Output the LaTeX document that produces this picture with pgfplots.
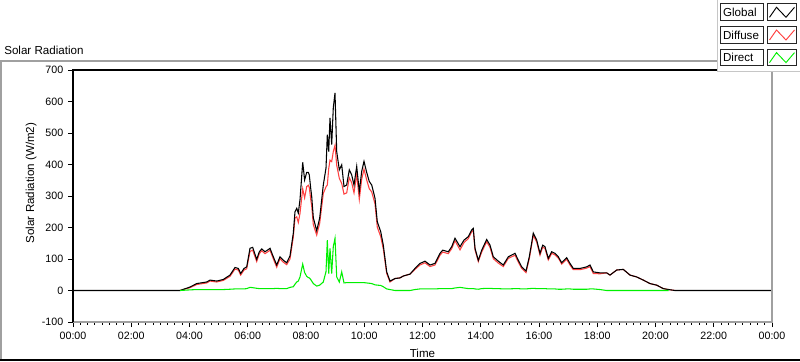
\documentclass[border=0pt]{standalone}
\usepackage{pgfplots}
\usepackage{pgfplotstable}
\pgfplotsset{compat=1.18}
\usepackage{fontspec}
\setmainfont{Liberation Sans}
\definecolor{frgray}{RGB}{160,160,160}
\definecolor{difred}{RGB}{255,64,64}
\definecolor{dirgreen}{RGB}{0,240,0}
\pgfplotstableread{
h G D B
0.000 0 nan nan
3.674 0 0 0
4.017 11 9 2
4.247 22 19 3
4.591 27 24 3
4.704 33 30 3
4.934 30 27 3
5.161 35 32 3
5.391 49 45 4
5.562 73 68 5
5.676 70 65 5
5.758 54 49 5
5.871 70 65 5
5.964 75 69 6
6.077 134 124 10
6.170 137 128 9
6.307 99 92 7
6.397 123 117 6
6.479 132 126 6
6.592 123 117 6
6.706 130 124 6
6.764 134 128 6
6.877 107 101 6
6.994 81 74 7
7.107 107 101 6
7.221 96 90 6
7.337 88 82 6
7.451 110 100 10
7.564 182 170 12
7.622 250 230 20
7.681 261 234 27
7.736 246 216 30
7.794 288 245 43
7.887 407 323 84
7.953 351 294 57
8.024 375 330 45
8.079 375 334 41
8.113 367 327 40
8.161 325 290 35
8.196 298 268 30
8.251 231 209 22
8.367 190 176 14
8.470 230 213 17
8.594 335 308 27
8.687 389 329 60
8.732 495 335 160
8.780 441 387 54
8.824 548 414 134
8.882 463 409 54
8.937 580 441 139
8.996 627 461 166
9.054 441 398 43
9.144 383 356 27
9.226 399 340 59
9.305 330 306 24
9.397 335 310 25
9.487 383 358 25
9.569 367 342 25
9.648 335 310 25
9.741 394 369 25
9.830 314 289 25
9.912 378 353 25
9.991 410 385 25
10.084 375 351 24
10.173 346 323 23
10.256 335 313 22
10.369 293 275 18
10.448 218 201 17
10.565 187 171 16
10.654 144 132 12
10.771 59 54 5
10.884 30 27 3
11.056 38 38 0
11.227 40 40 0
11.341 46 46 0
11.571 52 52 0
11.742 70 67 3
11.914 86 81 5
12.086 93 88 5
12.258 81 76 5
12.429 86 81 5
12.601 118 112 6
12.693 128 122 6
12.886 123 117 6
13.003 139 133 6
13.116 166 158 8
13.288 139 129 10
13.425 160 152 8
13.573 171 165 6
13.689 192 186 6
13.744 197 191 6
13.803 134 129 5
13.916 96 92 4
14.033 128 122 6
14.204 162 155 7
14.318 144 137 7
14.431 107 101 6
14.603 93 87 6
14.774 81 76 5
14.946 107 102 5
15.176 118 112 6
15.290 96 90 6
15.406 75 70 5
15.554 62 57 5
15.667 107 101 6
15.804 182 175 7
15.921 160 154 6
16.034 118 112 6
16.127 144 138 6
16.206 139 133 6
16.319 102 97 5
16.436 123 118 5
16.549 118 113 5
16.663 107 103 4
16.779 88 84 4
16.951 104 99 5
17.064 86 81 5
17.178 70 66 4
17.408 70 66 4
17.638 75 71 4
17.751 81 76 5
17.865 59 54 5
18.094 56 53 3
18.324 56 56 0
18.438 49 49 0
18.668 65 65 0
18.894 67 67 0
19.124 49 49 0
19.354 43 43 0
19.581 33 33 0
19.811 22 22 0
20.041 17 17 0
20.268 6 6 0
20.450 3 3 0
20.670 0 0 nan
24.000 0 nan nan
}\solar
\begin{document}
\begin{tikzpicture}
\useasboundingbox (0,0) rectangle (600pt,270.75pt);
\fill[white] (0,0) rectangle (600pt,270.75pt);
\begin{axis}[
  at={(54.75pt,29.25pt)}, anchor=south west,
  scale only axis, width=524.25pt, height=189pt,
  xmin=0, xmax=24, ymin=-100, ymax=700,
  xtick={0,2,...,24},
  xticklabels={00:00,02:00,04:00,06:00,08:00,10:00,12:00,14:00,16:00,18:00,20:00,22:00,00:00},
  minor x tick num=7,
  ytick={-100,0,100,200,300,400,500,600,700},
  yticklabels={-100,0,100,200,300,400,500,600,700},
  xtick pos=left, ytick pos=left,
  tick align=outside,
  major tick length=3.75pt, minor tick length=2pt,
  tick style={black, line width=0.75pt},
  axis line style={draw=none},
  /pgf/number format/assume math mode=true,
  tick label style={font=\fontsize{8}{9.6}\selectfont, black},
  xticklabel style={yshift=-0.5pt},
]
\addplot[difred, line width=0.8pt, mark=none] table[x=h, y=D] {\solar};
\addplot[black, line width=0.8pt, mark=none] table[x=h, y=G] {\solar};
\addplot[dirgreen, line width=0.8pt, mark=none] table[x=h, y=B] {\solar};
\end{axis}
\begin{scope}[x=0.75pt, y=0.75pt]
  % outer frame
  \draw[frgray, line width=0.9pt] (0,300) -- (717,300);
  \draw[frgray, line width=0.9pt] (1,300) -- (1,1);
  \draw[black, line width=0.9pt] (0,1) -- (800,1);
  % plot borders
  \draw[frgray, line width=0.9pt] (772,291) -- (772,39) -- (73,39);
  \draw[black, line width=1pt] (73,39) -- (73,291) -- (772,291);
  % texts
  \node[anchor=base west, inner sep=0pt, font=\fontsize{8.7}{10}\selectfont] at (4,306) {Solar Radiation};
  \node[anchor=base, inner sep=0pt, font=\fontsize{8.7}{10}\selectfont] at (422.5,3.5) {Time};
  \node[rotate=90, inner sep=0pt, font=\fontsize{8.7}{10}\selectfont] at (31,178) {Solar Radiation (W/m2)};
  % legend panel
  \fill[white] (717,361) rectangle (800,289);
  \draw[frgray!60, line width=0.75pt] (717,361) -- (717,289) -- (800,289);
  \foreach \t/\lab/\col in {357/Global/black, 334.3/Diffuse/difred, 311.7/Direct/dirgreen}{
    \draw[black!85, line width=0.75pt, fill=white] (720.7,\t) rectangle (763.3,\t-16.5);
    \node[anchor=west, inner sep=0pt, font=\fontsize{8.7}{10}\selectfont] at (722.8,\t-8.3) {\lab};
    \draw[black!85, line width=0.75pt, fill=white] (767.7,\t) rectangle (796,\t-16.5);
    \draw[\col, line width=0.7pt] (769.5,\t-13.3) -- (776.5,\t-3.3) -- (786,\t-13.3) -- (794.5,\t-3.3);
  }
\end{scope}
\end{tikzpicture}
\end{document}
